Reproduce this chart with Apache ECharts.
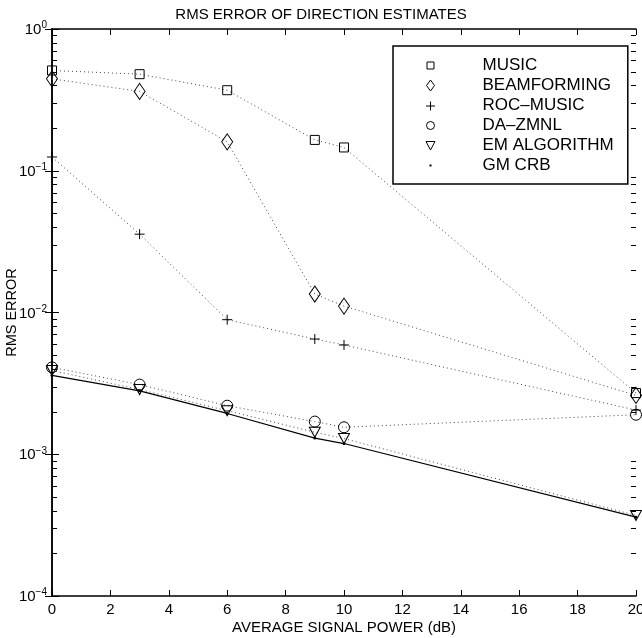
<!DOCTYPE html>
<html>
<head>
<meta charset="utf-8">
<script src="https://cdn.jsdelivr.net/npm/echarts@6/dist/echarts.min.js"></script>
<style>
  html, body { margin: 0; padding: 0; background: #fff; }
  #main { width: 642px; height: 638px; }
</style>
</head>
<body>
<div id="main"></div>
<script>
// signal power (dB)
var snr = [0, 3, 6, 9, 10, 20];
// rms error per method
var music = [0.51, 0.48, 0.37, 0.165, 0.146, 0.0027];
var beamforming = [0.445, 0.363, 0.16, 0.0135, 0.0111, 0.0026];
var rocMusic = [0.125, 0.0357, 0.0089, 0.0065, 0.0059, 0.00205];
var daZmnl = [0.0041, 0.0031, 0.0022, 0.0017, 0.00155, 0.0019];
var emAlg = [0.0039, 0.00286, 0.00203, 0.00143, 0.00129, 0.00037];
var gmCrb = [0.0036, 0.0028, 0.00194, 0.0013, 0.00119, 0.00036];
// log axis minor tick marks
var decades = [1e-4, 1e-3, 1e-2, 1e-1];
var mantissas = [2, 3, 4, 5, 6, 7, 8, 9];

var FONT = '"Liberation Sans", Arial, sans-serif';

function pairs(ys) {
    return snr.map(function (x, i) { return [x, ys[i]]; });
}

var minorTicks = [];
decades.forEach(function (d) {
    mantissas.forEach(function (m) { minorTicks.push([0, m * d]); });
});

var dotted = { color: '#444', width: 1, type: [1, 3] };
var hollow = { color: 'rgba(0,0,0,0)', borderColor: '#000', borderWidth: 1 };

// legend icons: 54x14 box, symbol drawn at the left
var BOX = 'path://M0,0M54,14';
var icons = {
    square: BOX + 'M3.5,3.5h7v7h-7z',
    diamond: BOX + 'M7,1.5L11,7L7,12.5L3,7z',
    plus: BOX + 'M2.5,7.5h9M7,3v9',
    circle: BOX + 'M11,7A4,4,0,1,1,3,7A4,4,0,1,1,11,7z',
    tri: BOX + 'M2.5,3L11.5,3L7,11.5z',
    dot: BOX + 'M6,6h2v2h-2z'
};

var myChart = echarts.init(document.getElementById('main'));
myChart.setOption({
    animation: false,
    title: {
        text: 'RMS ERROR OF DIRECTION ESTIMATES',
        left: 'center',
        top: 2,
        textStyle: { fontFamily: FONT, fontSize: 15, fontWeight: 'normal', color: '#000' }
    },
    grid: { left: 52, right: 6, top: 29, bottom: 42, containLabel: false, outerBoundsMode: 'none' },
    legend: {
        orient: 'vertical',
        left: 393,
        top: 46,
        itemWidth: 54,
        itemHeight: 14,
        itemGap: 3,
        padding: [11, 14, 10, 30],
        borderColor: '#000',
        borderWidth: 1.5,
        backgroundColor: '#fff',
        selectedMode: false,
        itemStyle: { color: 'rgba(0,0,0,0)', borderColor: '#000', borderWidth: 1 },
        textStyle: { fontFamily: FONT, fontSize: 17, color: '#000' },
        data: [
            { name: 'MUSIC', icon: icons.square },
            { name: 'BEAMFORMING', icon: icons.diamond },
            { name: 'ROC\u2013MUSIC', icon: icons.plus },
            { name: 'DA\u2013ZMNL', icon: icons.circle },
            { name: 'EM ALGORITHM', icon: icons.tri },
            { name: 'GM CRB', icon: icons.dot, itemStyle: { color: '#000', borderWidth: 0 } }
        ]
    },
    xAxis: [
        {
            type: 'value',
            min: 0,
            max: 20,
            interval: 2,
            name: 'AVERAGE SIGNAL POWER (dB)',
            nameLocation: 'middle',
            nameGap: 24,
            nameMoveOverlap: false,
            nameTextStyle: { fontFamily: FONT, fontSize: 15, color: '#000', verticalAlign: 'top' },
            axisLine: { lineStyle: { color: '#000', width: 1.5 } },
            axisTick: { inside: true, length: 6, lineStyle: { color: '#000' } },
            axisLabel: { fontFamily: FONT, fontSize: 15, color: '#000', margin: 6 },
            splitLine: { show: false }
        },
        {
            type: 'value',
            position: 'top',
            min: 0,
            max: 20,
            interval: 2,
            axisLine: { lineStyle: { color: '#000', width: 1.5 } },
            axisTick: { inside: true, length: 6, lineStyle: { color: '#000' } },
            axisLabel: { show: false },
            splitLine: { show: false }
        }
    ],
    yAxis: [
        {
            type: 'log',
            logBase: 10,
            min: 1e-4,
            max: 1,
            name: 'RMS ERROR',
            nameLocation: 'middle',
            nameGap: 33,
            nameMoveOverlap: false,
            nameTextStyle: { fontFamily: FONT, fontSize: 14.5, color: '#000' },
            axisLine: { lineStyle: { color: '#000', width: 1.5 } },
            axisTick: { inside: true, length: 7, lineStyle: { color: '#000' } },
            axisLabel: {
                margin: 5,
                formatter: function (v) {
                    var e = Math.round(Math.log10(v));
                    return '{b|10}{s|' + (e < 0 ? '\u2212' + (-e) : e) + '}';
                },
                rich: {
                    b: { fontFamily: FONT, fontSize: 15, color: '#000', lineHeight: 17, verticalAlign: 'bottom' },
                    s: { fontFamily: FONT, fontSize: 10, color: '#000', lineHeight: 17, verticalAlign: 'top' }
                }
            },
            splitLine: { show: false }
        },
        {
            type: 'log',
            logBase: 10,
            min: 1e-4,
            max: 1,
            position: 'right',
            axisLine: { lineStyle: { color: '#000', width: 1.5 } },
            axisTick: { inside: true, length: 7, lineStyle: { color: '#000' } },
            axisLabel: { show: false },
            splitLine: { show: false }
        }
    ],
    series: [
        {
            name: 'minor ticks',
            type: 'custom',
            silent: true,
            clip: false,
            z: 5,
            data: minorTicks,
            renderItem: function (params, api) {
                var p = api.coord([0, api.value(1)]);
                var cs = params.coordSys;
                var y = Math.round(p[1]) + 0.5;
                var st = { stroke: '#000', lineWidth: 1 };
                return {
                    type: 'group',
                    children: [
                        { type: 'line', shape: { x1: cs.x, y1: y, x2: cs.x + 5, y2: y }, style: st },
                        { type: 'line', shape: { x1: cs.x + cs.width, y1: y, x2: cs.x + cs.width - 5, y2: y }, style: st }
                    ]
                };
            }
        },
        {
            name: 'MUSIC', type: 'line', data: pairs(music),
            symbol: 'rect', symbolSize: 9, lineStyle: dotted, itemStyle: hollow
        },
        {
            name: 'BEAMFORMING', type: 'line', data: pairs(beamforming),
            symbol: 'diamond', symbolSize: [11, 16], lineStyle: dotted, itemStyle: hollow
        },
        {
            name: 'ROC\u2013MUSIC', type: 'line', data: pairs(rocMusic),
            symbol: 'path://M0,5L10,5M5,0L5,10', symbolSize: 10, lineStyle: dotted, itemStyle: hollow
        },
        {
            name: 'DA\u2013ZMNL', type: 'line', data: pairs(daZmnl),
            symbol: 'circle', symbolSize: 11, lineStyle: dotted, itemStyle: hollow
        },
        {
            name: 'EM ALGORITHM', type: 'line', data: pairs(emAlg),
            symbol: 'triangle', symbolRotate: 180, symbolSize: [11, 10], lineStyle: dotted, itemStyle: hollow
        },
        {
            name: 'GM CRB', type: 'line', data: pairs(gmCrb),
            symbol: 'circle', symbolSize: 3,
            lineStyle: { color: '#000', width: 1.2, type: 'solid' },
            itemStyle: { color: '#000' }
        }
    ]
});
</script>
</body>
</html>
